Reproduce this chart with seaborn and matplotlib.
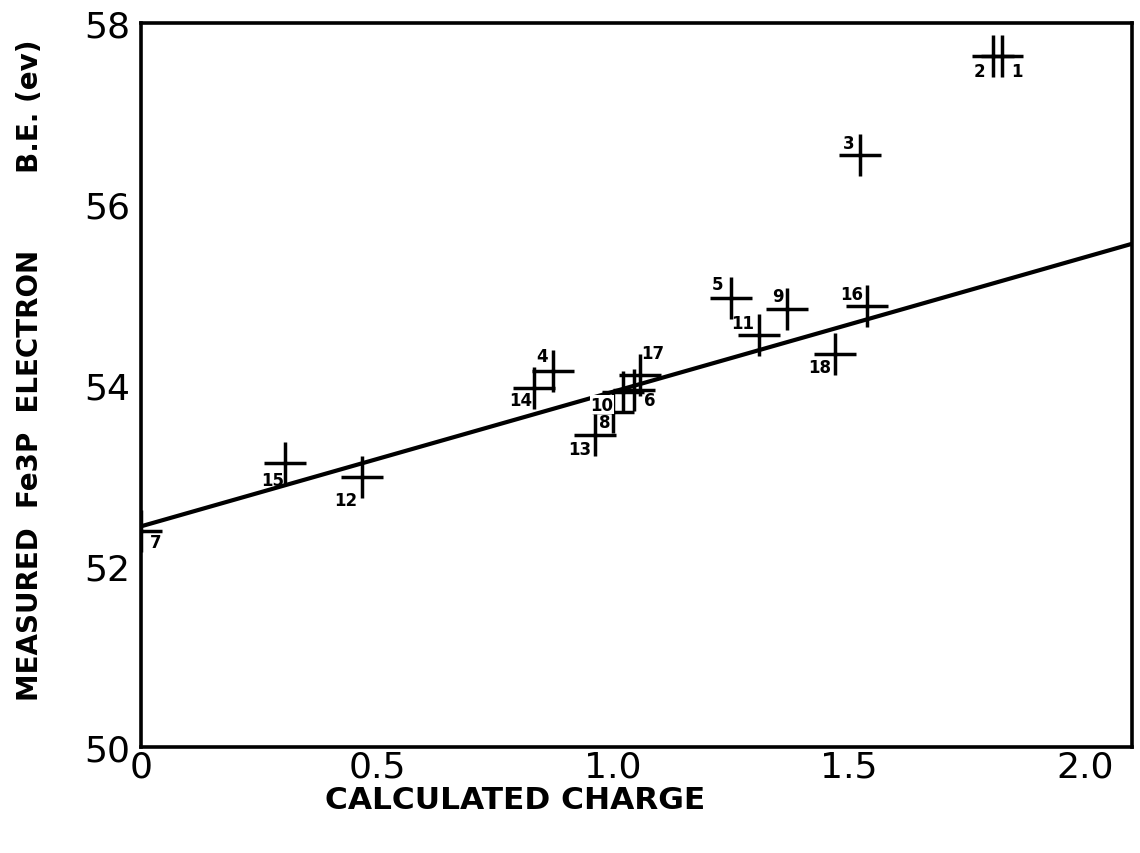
import matplotlib
matplotlib.use("Agg")
import matplotlib.pyplot as plt
import seaborn as sns
import pandas as pd

# ---- data ----
point_ids = ["1", "2", "3", "4", "5", "6", "7", "8", "9", "10",
             "11", "12", "13", "14", "15", "16", "17", "18"]
charge = [1.824, 1.805, 1.523, 0.873, 1.250, 1.045, 0.000, 1.000, 1.369, 1.020,
          1.309, 0.468, 0.962, 0.833, 0.305, 1.538, 1.058, 1.470]
binding_energy = [57.64, 57.64, 56.54, 54.15, 54.96, 53.94, 52.39, 53.70, 54.84, 53.92,
                  54.55, 52.98, 53.45, 53.97, 53.14, 54.87, 54.11, 54.34]
fit_charge = [0.0, 2.1]
fit_be = [52.44, 55.56]
x_ticks = [0, 0.5, 1.0, 1.5, 2.0]
x_tick_labels = ["0", "0.5", "1.0", "1.5", "2.0"]
y_ticks = [50, 52, 54, 56, 58]
y_tick_labels = ["50", "52", "54", "56", "58"]
x_title = "CALCULATED CHARGE"
y_title = "MEASURED  Fe3P  ELECTRON        B.E. (ev)"

# label offsets (points) for each point number
label_offsets = {
    "1": (11, -11), "2": (-10, -11), "3": (-8, 9), "4": (-8, 11), "5": (-10, 10),
    "6": (11, -7), "7": (10, -8), "8": (-6, -7), "9": (-7, 9), "10": (-15, -9),
    "11": (-12, 9), "12": (-12, -16), "13": (-11, -10), "14": (-10, -9),
    "15": (-9, -12), "16": (-11, 9), "17": (9, 16), "18": (-11, -9),
}

df = pd.DataFrame({"id": point_ids, "charge": charge, "be": binding_energy})
fit = pd.DataFrame({"charge": fit_charge, "be": fit_be})

sns.set_style("white")
plt.rcParams["font.family"] = ["DejaVu Sans"]
plt.rcParams["axes.labelcolor"] = "black"
plt.rcParams["text.color"] = "black"

fig = plt.figure(figsize=(11.4, 8.54), dpi=100)
ax = fig.add_axes([0.124, 0.124, 0.869, 0.848])

sns.lineplot(data=fit, x="charge", y="be", ax=ax, color="black", linewidth=3.0)
sns.scatterplot(data=df, x="charge", y="be", ax=ax, marker="+", s=900,
                color="black", linewidth=2.5, zorder=3)

for pid, cx, cy in zip(point_ids, charge, binding_energy):
    dx, dy = label_offsets[pid]
    kw = {}
    if pid == "10":
        kw["bbox"] = dict(facecolor="white", edgecolor="none", pad=0.5)
    ax.annotate(pid, (cx, cy), xytext=(dx, dy), textcoords="offset points",
                ha="center", va="center", fontsize=12, fontweight="bold",
                color="black", zorder=4, **kw)

ax.set_xlim(0, 2.1)
ax.set_ylim(50, 58)
ax.set_xticks(x_ticks)
ax.set_xticklabels(x_tick_labels)
ax.set_yticks(y_ticks)
ax.set_yticklabels(y_tick_labels)
ax.tick_params(axis="both", direction="in", length=16, width=2.2,
               labelsize=26, color="black", labelcolor="black")
ax.tick_params(axis="x", pad=2)
ax.tick_params(axis="y", pad=8)
for sp in ax.spines.values():
    sp.set_visible(True)
    sp.set_linewidth(2.6)
    sp.set_color("black")

ax.set_xlabel(x_title, fontsize=22.5, fontweight="bold", color="black")
ax.xaxis.set_label_coords(0.377, -0.072)
ax.xaxis.label.set_va("center")
ax.set_ylabel(y_title, fontsize=20, fontweight="bold", color="black")
ax.yaxis.set_label_coords(-0.112, 0.522)
ax.yaxis.label.set_va("center")

fig.savefig("out.png", dpi=100, facecolor="white")
